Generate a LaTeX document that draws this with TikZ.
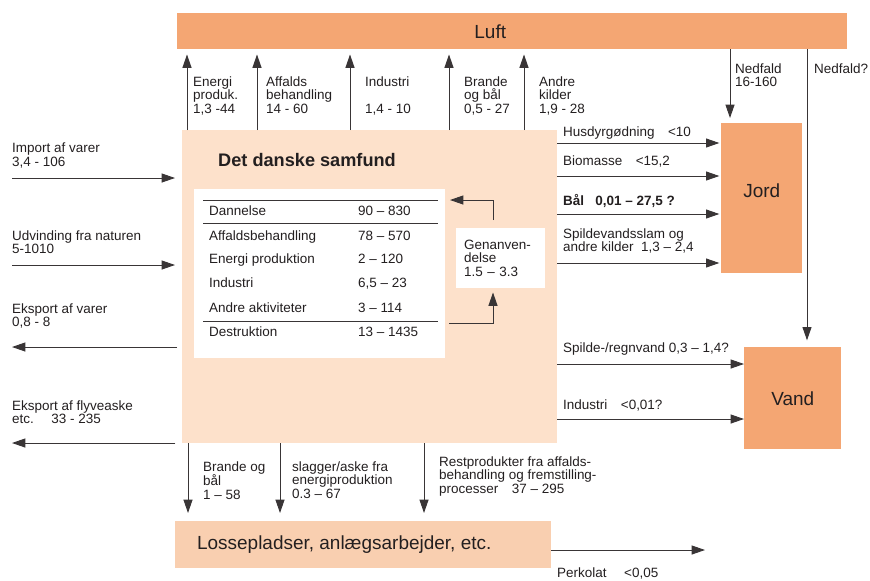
\documentclass[tikz,border=0pt]{standalone}
\usepackage{fontspec}
\setmainfont{Liberation Sans}
\usetikzlibrary{arrows.meta,positioning}
\definecolor{salmon}{HTML}{F4A673}
\definecolor{peach}{HTML}{FDE1CB}
\definecolor{sand}{HTML}{F9CFB0}
\definecolor{ink}{HTML}{231F20}
\def\labfont {\fontsize{11.5}{11.6}\selectfont}
\def\bigfont {\fontsize{16.2}{18}\selectfont}
\def\headfont{\bfseries\fontsize{15.5}{18}\selectfont}
\tikzset{
  box/.style={fill=salmon, inner sep=0pt, text=ink, font=\bigfont},
  lbl/.style={anchor=north west, inner sep=0pt, align=left, text=ink, font=\labfont},
  row/.style={anchor=base west, inner sep=0pt, text=ink, font=\labfont},
  flow/.style={draw=ink!90, line width=0.8pt, -{Triangle[length=0.4cm,width=0.27cm]}},
  rule/.style={draw=ink!90, line width=0.8pt}
}
\begin{document}
\begin{tikzpicture}[x=0.03cm,y=-0.03cm]
\useasboundingbox (0,0) rectangle (870,580);
\node[box, anchor=north west, minimum width=20.1cm, minimum height=1.08cm] (luft) at (177,13) {Luft\hspace*{1.32cm}};
\node[box, fill=peach, anchor=north west, minimum width=11.25cm, minimum height=9.39cm] (samfund) at (182,130) {};
\node[box, fill=sand, anchor=north west, minimum width=11.28cm, minimum height=1.41cm] (losse) at (175,521) {Lossepladser, anlægsarbejder, etc.\hspace*{1.14cm}};
\node[box, anchor=north west, minimum width=2.43cm, minimum height=4.5cm, text depth=0.48cm] (jord) at (721,123) {Jord};
\node[box, anchor=north west, minimum width=2.91cm, minimum height=3.06cm] (vand) at (744,347) {Vand};

\node[anchor=base west, inner sep=0pt, text=ink, font=\headfont] (titel) at (218,166) {Det danske samfund};
\node[box, fill=white, anchor=north west, minimum width=7.53cm, minimum height=5.07cm] (tabel) at (194,189) {};
\draw[rule] (203,200) -- (438,200);
\draw[rule] (203,223) -- (438,223);
\draw[rule] (203,321) -- (438,321);
\foreach \nm/\txt/\val/\y in {dan/Dannelse/90 -- 830/215, aff/Affaldsbehandling/78 -- 570/240,
    ene/Energi produktion/2 -- 120/263, ind/Industri/{6,5 -- 23}/287,
    and/Andre aktiviteter/3 -- 114/312, des/Destruktion/13 -- 1435/336}{
  \node[row] (\nm) at (209,\y) {\txt};
  \node[row] (\nm-v) at (358,\y) {\val};
}
\node[box, fill=white, font=\labfont, anchor=north west, minimum width=2.67cm, minimum height=1.8cm,
  align=left, text width=2.19cm, inner xsep=0.24cm] (genbrug) at (456,228) {Genanven-\\delse\\1.5 -- 3.3};
\coordinate (tilbage) at (450,200);
\coordinate (ud) at (449,323);
\coordinate (knaek1) at (493,200);
\coordinate (knaek2) at (493,323);
\draw[flow, shorten <=0.24cm] (genbrug.north -| knaek1) -- (knaek1) -- (tilbage);
\draw[flow, shorten >=0.12cm] (ud) -- (knaek2) -- (genbrug.south -| knaek2);

\foreach \x/\lx/\nm/\txt in {187/193/energi/{Energi\\produk.\\1,3 -44}, 257/266/affald/{Affalds\\behandling\\14 - 60},
    350/365/industri/{Industri\\\mbox{}\\1,4 - 10}, 449/464/brande/{Brande\\og bål\\0,5 - 27},
    524/539/andre/{Andre\\kilder\\1,9 - 28}}{
  \coordinate (op-\nm) at (\x,90);
  \draw[flow, shorten >=0.15cm] (samfund.north -| op-\nm) -- (luft.south -| op-\nm);
  \node[lbl] (l-\nm) at (\lx,76) {\txt};
}

\coordinate (ned1) at (730,90);
\draw[flow, shorten >=0.15cm] (luft.south -| ned1) -- (jord.north -| ned1);
\node[lbl] (l-ned1) at (735,63) {Nedfald\\16-160};
\coordinate (ned2) at (807,90);
\draw[flow, shorten >=0.2cm] (luft.south -| ned2) -- (vand.north -| ned2);
\node[lbl] (l-ned2) at (814,63) {Nedfald?};

\foreach \y/\ly/\nm/\txt in {143/126/husdyr/{Husdyrgødning\quad <10}, 176/155/biomasse/{Biomasse\quad <15,2},
    214/194/baal/{\textbf{Bål\ \ \ 0,01 -- 27,5 ?}}, 263/228/slam/{Spildevandsslam og\\andre kilder\ \ 1,3 -- 2,4}}{
  \coordinate (j-\nm) at (600,\y);
  \draw[flow, shorten >=0.05cm] (samfund.east |- j-\nm) -- (jord.west |- j-\nm);
  \node[lbl] (l-\nm) at (563,\ly) {\txt};
}
\foreach \y/\ly/\nm/\txt in {364/342/spilde/{Spilde-/regnvand 0,3 -- 1,4?}, 419/399/vind/{Industri\quad <0,01?}}{
  \coordinate (v-\nm) at (600,\y);
  \draw[flow] (samfund.east |- v-\nm) -- (vand.west |- v-\nm);
  \node[lbl] (l-\nm) at (563,\ly) {\txt};
}

\coordinate (import) at (12,178);
\draw[flow, shorten >=0.21cm] (import) -- (samfund.west |- import);
\node[lbl] (l-import) at (12,143) {Import af varer\\3,4 - 106};
\coordinate (udvind) at (12,265);
\draw[flow, shorten >=0.21cm] (udvind) -- (samfund.west |- udvind);
\node[lbl] (l-udvind) at (12,230) {Udvinding fra naturen\\5-1010};
\coordinate (eksport) at (12,347);
\draw[flow, shorten <=0.15cm] (samfund.west |- eksport) -- (eksport);
\node[lbl] (l-eksport) at (12,303) {Eksport af varer\\0,8 - 8};
\coordinate (flyaske) at (12,443);
\draw[flow, shorten <=0.2cm] (samfund.west |- flyaske) -- (flyaske);
\node[lbl] (l-flyaske) at (12,400) {Eksport af flyveaske\\etc.\hspace{1.3em}33 - 235};

\foreach \x/\lx/\ly/\nm/\txt in {188/203/461/bbaal/{Brande og\\bål\\1 -- 58},
    280/292/461/slagger/{slagger/aske fra\\energiproduktion\\0.3 -- 67},
    424/439/456/rest/{Restprodukter fra affalds-\\behandling og fremstilling-\\processer\hspace{1em}37 -- 295}}{
  \coordinate (ned-\nm) at (\x,480);
  \draw[flow, shorten >=0.24cm] (samfund.south -| ned-\nm) -- (losse.north -| ned-\nm);
  \node[lbl] (l-\nm) at (\lx,\ly) {\txt};
}

\coordinate (perk) at (705,550);
\draw[flow] (losse.east |- perk) -- (perk);
\node[lbl] (l-perk) at (557,567) {Perkolat\hspace{1.3em}<0,05};
\end{tikzpicture}
\end{document}
